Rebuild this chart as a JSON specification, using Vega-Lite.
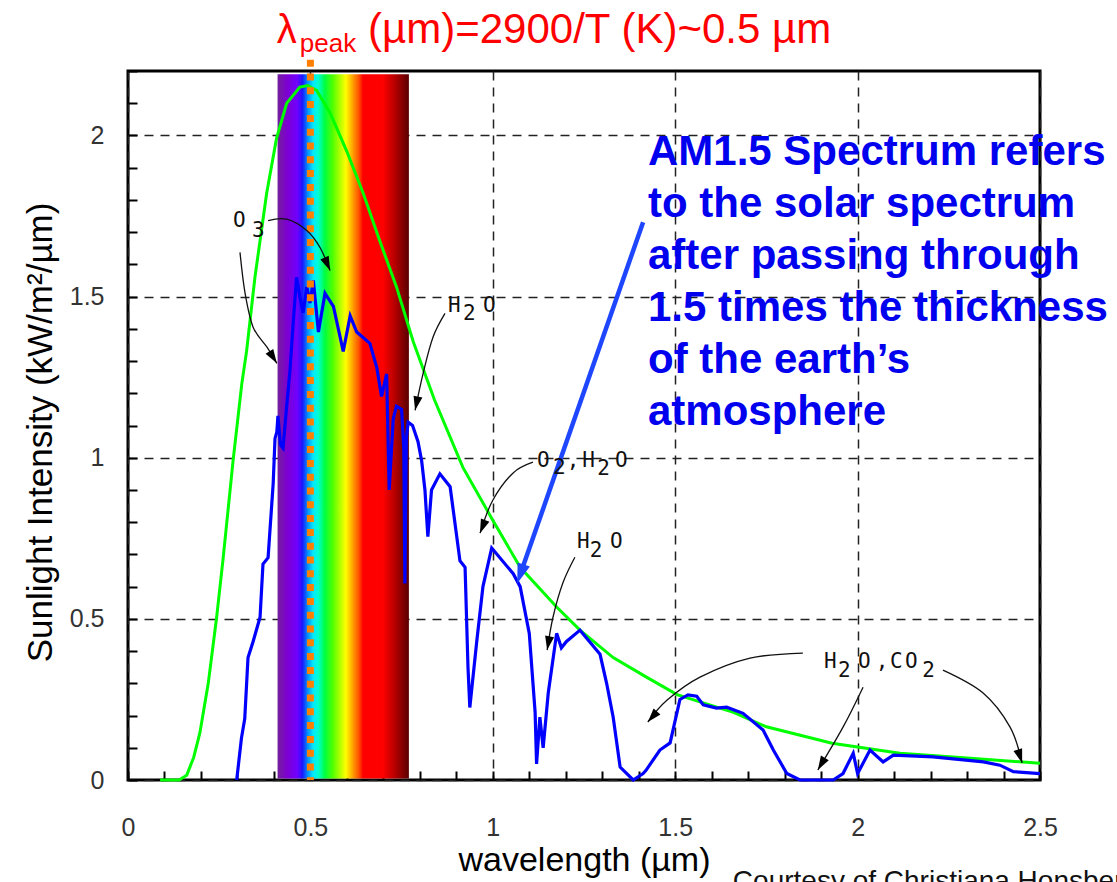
{
  "$schema": "https://vega.github.io/schema/vega-lite/v6.json",
  "width": 912,
  "height": 709,
  "autosize": "none",
  "padding": {"left": 128, "top": 71, "right": 77, "bottom": 102},
  "background": "white",
  "config": {
    "view": {"stroke": "black", "strokeWidth": 3},
    "font": "Liberation Sans"
  },
  "datasets": {
    "am15": [
      {"x":0.298,"y":0},{"x":0.311,"y":0.13},{"x":0.32,"y":0.19},{"x":0.329,"y":0.38},{"x":0.343,"y":0.43},
      {"x":0.362,"y":0.505},{"x":0.37,"y":0.67},{"x":0.384,"y":0.69},{"x":0.398,"y":0.92},{"x":0.403,"y":1.06},
      {"x":0.408,"y":1.08},{"x":0.411,"y":1.13},{"x":0.418,"y":1.04},{"x":0.425,"y":1.03},{"x":0.435,"y":1.16},
      {"x":0.444,"y":1.27},{"x":0.453,"y":1.42},{"x":0.462,"y":1.56},{"x":0.471,"y":1.5},{"x":0.48,"y":1.45},
      {"x":0.49,"y":1.53},{"x":0.499,"y":1.48},{"x":0.508,"y":1.55},{"x":0.522,"y":1.39},{"x":0.54,"y":1.51},
      {"x":0.563,"y":1.47},{"x":0.59,"y":1.33},{"x":0.609,"y":1.44},{"x":0.627,"y":1.39},{"x":0.663,"y":1.355},
      {"x":0.682,"y":1.28},{"x":0.695,"y":1.19},{"x":0.709,"y":1.26},{"x":0.716,"y":0.9},{"x":0.727,"y":1.12},
      {"x":0.736,"y":1.16},{"x":0.75,"y":1.15},{"x":0.756,"y":1.03},{"x":0.759,"y":0.61},{"x":0.763,"y":1.06},
      {"x":0.768,"y":1.11},{"x":0.78,"y":1.1},{"x":0.795,"y":1.05},{"x":0.805,"y":0.99},{"x":0.814,"y":0.9},
      {"x":0.822,"y":0.755},{"x":0.832,"y":0.9},{"x":0.855,"y":0.95},{"x":0.883,"y":0.91},{"x":0.91,"y":0.68},
      {"x":0.924,"y":0.66},{"x":0.932,"y":0.35},{"x":0.937,"y":0.225},{"x":0.956,"y":0.43},{"x":0.973,"y":0.6},
      {"x":0.997,"y":0.72},{"x":1.056,"y":0.64},{"x":1.075,"y":0.6},{"x":1.1,"y":0.455},{"x":1.116,"y":0.21},
      {"x":1.12,"y":0.05},{"x":1.129,"y":0.195},{"x":1.138,"y":0.1},{"x":1.152,"y":0.27},{"x":1.175,"y":0.455},
      {"x":1.188,"y":0.41},{"x":1.202,"y":0.43},{"x":1.239,"y":0.465},{"x":1.294,"y":0.39},{"x":1.312,"y":0.3},
      {"x":1.33,"y":0.195},{"x":1.349,"y":0.04},{"x":1.385,"y":0.0},{"x":1.412,"y":0.02},{"x":1.42,"y":0.03},
      {"x":1.458,"y":0.093},{"x":1.486,"y":0.115},{"x":1.513,"y":0.25},{"x":1.535,"y":0.264},{"x":1.559,"y":0.26},
      {"x":1.577,"y":0.233},{"x":1.613,"y":0.223},{"x":1.641,"y":0.226},{"x":1.686,"y":0.207},{"x":1.741,"y":0.155},
      {"x":1.769,"y":0.093},{"x":1.806,"y":0.02},{"x":1.842,"y":0},{"x":1.933,"y":0},{"x":1.96,"y":0.02},
      {"x":1.988,"y":0.083},{"x":2.0,"y":0.02},{"x":2.034,"y":0.093},{"x":2.07,"y":0.056},{"x":2.098,"y":0.077},
      {"x":2.207,"y":0.072},{"x":2.345,"y":0.056},{"x":2.39,"y":0.046},{"x":2.427,"y":0.026},{"x":2.5,"y":0.02}
    ],
    "bb": [
      {"x":0.088,"y":0},{"x":0.14,"y":0},{"x":0.161,"y":0.015},{"x":0.18,"y":0.07},{"x":0.197,"y":0.146},
      {"x":0.22,"y":0.3},{"x":0.243,"y":0.505},{"x":0.261,"y":0.69},{"x":0.288,"y":0.99},{"x":0.312,"y":1.23},
      {"x":0.325,"y":1.33},{"x":0.348,"y":1.56},{"x":0.38,"y":1.82},{"x":0.407,"y":1.99},{"x":0.435,"y":2.1},
      {"x":0.471,"y":2.15},{"x":0.493,"y":2.155},{"x":0.517,"y":2.14},{"x":0.554,"y":2.07},{"x":0.6,"y":1.95},
      {"x":0.645,"y":1.82},{"x":0.691,"y":1.67},{"x":0.736,"y":1.53},{"x":0.782,"y":1.36},{"x":0.84,"y":1.18},
      {"x":0.918,"y":0.97},{"x":1.0,"y":0.806},{"x":1.075,"y":0.66},{"x":1.175,"y":0.537},{"x":1.239,"y":0.465},
      {"x":1.33,"y":0.38},{"x":1.42,"y":0.32},{"x":1.505,"y":0.265},{"x":1.66,"y":0.21},{"x":1.75,"y":0.165},
      {"x":1.93,"y":0.114},{"x":2.116,"y":0.083},{"x":2.3,"y":0.068},{"x":2.5,"y":0.052}
    ],
    "arrows": [
      {"a":1,"o":1,"x":0.384,"y":1.736},{"a":1,"o":2,"x":0.435,"y":1.74},{"a":1,"o":3,"x":0.49,"y":1.705},{"a":1,"o":4,"x":0.526,"y":1.653},{"a":1,"o":5,"x":0.554,"y":1.581},
      {"a":2,"o":1,"x":0.307,"y":1.637},{"a":2,"o":2,"x":0.321,"y":1.51},{"a":2,"o":3,"x":0.343,"y":1.405},{"a":2,"o":4,"x":0.381,"y":1.343},{"a":2,"o":5,"x":0.408,"y":1.293},
      {"a":3,"o":1,"x":0.869,"y":1.448},{"a":3,"o":2,"x":0.836,"y":1.374},{"a":3,"o":3,"x":0.809,"y":1.262},{"a":3,"o":4,"x":0.787,"y":1.147},
      {"a":4,"o":1,"x":1.11,"y":0.986},{"a":4,"o":2,"x":1.055,"y":0.952},{"a":4,"o":3,"x":1.0,"y":0.868},{"a":4,"o":4,"x":0.965,"y":0.766},
      {"a":5,"o":1,"x":1.225,"y":0.691},{"a":5,"o":2,"x":1.192,"y":0.611},{"a":5,"o":3,"x":1.165,"y":0.505},{"a":5,"o":4,"x":1.149,"y":0.403},
      {"a":6,"o":1,"x":1.85,"y":0.394},{"a":6,"o":2,"x":1.705,"y":0.378},{"a":6,"o":3,"x":1.568,"y":0.319},{"a":6,"o":4,"x":1.478,"y":0.248},{"a":6,"o":5,"x":1.425,"y":0.18},
      {"a":7,"o":1,"x":2.015,"y":0.288},{"a":7,"o":2,"x":1.96,"y":0.164},{"a":7,"o":3,"x":1.891,"y":0.031},
      {"a":8,"o":1,"x":2.234,"y":0.341},{"a":8,"o":2,"x":2.344,"y":0.27},{"a":8,"o":3,"x":2.418,"y":0.164},{"a":8,"o":4,"x":2.451,"y":0.053}
    ],
    "tips": [
      {"a":1,"x":0.554,"y":1.581},{"a":2,"x":0.408,"y":1.293},{"a":3,"x":0.787,"y":1.147},{"a":4,"x":0.965,"y":0.766},
      {"a":5,"x":1.149,"y":0.403},{"a":6,"x":1.425,"y":0.18},{"a":7,"x":1.891,"y":0.031},{"a":8,"x":2.451,"y":0.053}
    ],
    "glyphs": [
      {"t":"O","x":0.288,"y":1.716},{"t":"3","x":0.34,"y":1.685},
      {"t":"H","x":0.877,"y":1.452},{"t":"2","x":0.918,"y":1.427},{"t":"O","x":0.973,"y":1.452},
      {"t":"O","x":1.121,"y":0.971},{"t":"2","x":1.165,"y":0.95},{"t":",","x":1.203,"y":0.971},{"t":"H","x":1.245,"y":0.971},{"t":"2","x":1.286,"y":0.946},{"t":"O","x":1.335,"y":0.971},
      {"t":"H","x":1.231,"y":0.72},{"t":"2","x":1.266,"y":0.692},{"t":"O","x":1.321,"y":0.72},
      {"t":"H","x":1.908,"y":0.348},{"t":"2","x":1.946,"y":0.32},{"t":"O","x":2.001,"y":0.348},{"t":",","x":2.05,"y":0.348},{"t":"C","x":2.089,"y":0.348},{"t":"O","x":2.13,"y":0.348},{"t":"2","x":2.177,"y":0.32}
    ]
  },
  "encoding": {
    "x": {
      "field": "x", "type": "quantitative",
      "scale": {"domain": [0, 2.5], "nice": false, "zero": false},
      "axis": {
        "values": [0,0.1,0.2,0.3,0.4,0.5,0.6,0.7,0.8,0.9,1,1.1,1.2,1.3,1.4,1.5,1.6,1.7,1.8,1.9,2,2.1,2.2,2.3,2.4,2.5],
        "labelExpr": "abs(datum.value*2-round(datum.value*2))<0.001 ? format(datum.value,'~g') : ''",
        "labelOverlap": false, "labelFlush": false, "labelBound": false,
        "labelFont": "Liberation Sans", "labelFontSize": 25, "labelColor": "#333333", "labelPadding": 35,
        "grid": true, "gridColor": "#222222", "gridDash": [9, 7], "gridWidth": 1.5,
        "gridOpacity": {"condition": {"test": "abs(datum.value*2-round(datum.value*2))<0.001", "value": 1}, "value": 0},
        "ticks": true, "tickSize": 9, "tickWidth": 2, "tickColor": "black", "offset": -9,
        "domain": false,
        "title": "wavelength (µm)", "titleFont": "Liberation Sans", "titleFontSize": 34, "titleFontWeight": "normal",
        "titleColor": "black", "titleY": 99, "titleBaseline": "alphabetic"
      }
    },
    "y": {
      "field": "y", "type": "quantitative",
      "scale": {"domain": [0, 2.2], "nice": false},
      "axis": {
        "values": [0,0.1,0.2,0.3,0.4,0.5,0.6,0.7,0.8,0.9,1,1.1,1.2,1.3,1.4,1.5,1.6,1.7,1.8,1.9,2,2.1,2.2],
        "labelExpr": "abs(datum.value*2-round(datum.value*2))<0.001 ? format(datum.value,'~g') : ''",
        "labelOverlap": false, "labelFlush": false, "labelBound": false,
        "labelFont": "Liberation Sans", "labelFontSize": 25, "labelColor": "#333333", "labelPadding": 24,
        "grid": true, "gridColor": "#222222", "gridDash": [9, 7], "gridWidth": 1.5,
        "gridOpacity": {"condition": {"test": "abs(datum.value*2-round(datum.value*2))<0.001", "value": 1}, "value": 0},
        "ticks": true, "tickSize": 9, "tickWidth": 2, "tickColor": "black", "offset": -9,
        "domain": false,
        "title": "Sunlight Intensity (kW/m²/µm)", "titleFont": "Liberation Sans", "titleFontSize": 35, "titleFontWeight": "normal",
        "titleColor": "black", "titleX": -97, "titleY": 361, "titleAngle": 270, "titleBaseline": "middle", "titleAlign": "center"
      }
    }
  },
  "layer": [
    {
      "data": {"values": [{"x": 0.41, "x2": 0.77, "y": 0.005, "y2": 2.19}]},
      "mark": {"type": "rect", "fill": {"gradient": "linear", "x1": 0, "y1": 0, "x2": 1, "y2": 0, "stops": [
        {"offset": 0, "color": "#73209a"},
        {"offset": 0.07, "color": "#7d00d0"},
        {"offset": 0.15, "color": "#7000ff"},
        {"offset": 0.19, "color": "#1a1aff"},
        {"offset": 0.23, "color": "#0090ff"},
        {"offset": 0.27, "color": "#00e8ff"},
        {"offset": 0.31, "color": "#00ffd0"},
        {"offset": 0.36, "color": "#00ff40"},
        {"offset": 0.42, "color": "#50ff00"},
        {"offset": 0.52, "color": "#ffff00"},
        {"offset": 0.57, "color": "#ffa500"},
        {"offset": 0.62, "color": "#ff5000"},
        {"offset": 0.65, "color": "#ff0000"},
        {"offset": 0.8, "color": "#ff0000"},
        {"offset": 0.9, "color": "#b00000"},
        {"offset": 1, "color": "#5a0000"}
      ]}},
      "encoding": {"x2": {"field": "x2"}, "y2": {"field": "y2"}}
    },
    {
      "data": {"name": "bb"},
      "mark": {"type": "line", "color": "#00ff00", "strokeWidth": 3},
      "encoding": {"order": {"field": "x", "type": "quantitative"}}
    },
    {
      "data": {"name": "am15"},
      "mark": {"type": "line", "color": "#0000ff", "strokeWidth": 3.2},
      "encoding": {"order": {"field": "x", "type": "quantitative"}}
    },
    {
      "data": {"values": [{"x": 0.5, "y": 2.235, "y2": 0}]},
      "mark": {"type": "rule", "color": "#ff8000", "strokeWidth": 7, "strokeDash": [7, 6.8], "strokeCap": "butt"},
      "encoding": {"y2": {"field": "y2"}}
    },
    {
      "data": {"name": "arrows"},
      "mark": {"type": "line", "color": "#111111", "strokeWidth": 1.3, "interpolate": "cardinal"},
      "encoding": {"detail": {"field": "a"}, "order": {"field": "o", "type": "quantitative"}}
    },
    {"data": {"name": "tips"}, "transform": [{"filter": "datum.a == 1"}],
     "mark": {"type": "point", "shape": "M0,0L-0.65,-2L0.65,-2Z", "size": 196, "filled": true, "color": "black", "opacity": 1, "angle": -23.5}},
    {"data": {"name": "tips"}, "transform": [{"filter": "datum.a == 2"}],
     "mark": {"type": "point", "shape": "M0,0L-0.65,-2L0.65,-2Z", "size": 196, "filled": true, "color": "black", "opacity": 1, "angle": -32}},
    {"data": {"name": "tips"}, "transform": [{"filter": "datum.a == 3"}],
     "mark": {"type": "point", "shape": "M0,0L-0.65,-2L0.65,-2Z", "size": 196, "filled": true, "color": "black", "opacity": 1, "angle": 12}},
    {"data": {"name": "tips"}, "transform": [{"filter": "datum.a == 4"}],
     "mark": {"type": "point", "shape": "M0,0L-0.65,-2L0.65,-2Z", "size": 196, "filled": true, "color": "black", "opacity": 1, "angle": 21.5}},
    {"data": {"name": "tips"}, "transform": [{"filter": "datum.a == 5"}],
     "mark": {"type": "point", "shape": "M0,0L-0.65,-2L0.65,-2Z", "size": 196, "filled": true, "color": "black", "opacity": 1, "angle": 10}},
    {"data": {"name": "tips"}, "transform": [{"filter": "datum.a == 6"}],
     "mark": {"type": "point", "shape": "M0,0L-0.65,-2L0.65,-2Z", "size": 196, "filled": true, "color": "black", "opacity": 1, "angle": 41}},
    {"data": {"name": "tips"}, "transform": [{"filter": "datum.a == 7"}],
     "mark": {"type": "point", "shape": "M0,0L-0.65,-2L0.65,-2Z", "size": 196, "filled": true, "color": "black", "opacity": 1, "angle": 30}},
    {"data": {"name": "tips"}, "transform": [{"filter": "datum.a == 8"}],
     "mark": {"type": "point", "shape": "M0,0L-0.65,-2L0.65,-2Z", "size": 196, "filled": true, "color": "black", "opacity": 1, "angle": -18}},
    {
      "data": {"values": [{"o": 1, "x": 1.412, "y": 1.731}, {"o": 2, "x": 1.083, "y": 0.663}]},
      "mark": {"type": "line", "color": "#1e46ff", "strokeWidth": 4.5},
      "encoding": {"order": {"field": "o", "type": "quantitative"}}
    },
    {
      "data": {"values": [{"x": 1.067, "y": 0.61}]},
      "mark": {"type": "point", "shape": "M0,0L-0.65,-2L0.65,-2Z", "size": 400, "filled": true, "color": "#1e46ff", "opacity": 1, "angle": 19}
    },
    {
      "data": {"name": "glyphs"},
      "mark": {"type": "text", "font": "DejaVu Sans Mono", "fontSize": 21, "color": "#111111", "align": "left", "baseline": "alphabetic"},
      "encoding": {"text": {"field": "t"}}
    },
    {
      "data": {"values": [{"t": "AM1.5 Spectrum refers\nto the solar spectrum\nafter passing through\n1.5 times the thickness\nof the earth’s\natmosphere", "x": 1.4254, "y": 1.908}]},
      "mark": {"type": "text", "font": "Liberation Sans", "fontSize": 42, "fontWeight": "bold", "color": "#0000ee", "align": "left", "baseline": "alphabetic", "lineBreak": "\n", "lineHeight": 52},
      "encoding": {"text": {"field": "t"}}
    },
    {
      "data": {"values": [{"t": "λ", "x": 0.408, "y": 2.287}]},
      "mark": {"type": "text", "font": "Liberation Sans", "fontSize": 40, "color": "#ff0000", "align": "left", "baseline": "alphabetic"},
      "encoding": {"text": {"field": "t"}}
    },
    {
      "data": {"values": [{"t": "peak", "x": 0.471, "y": 2.259}]},
      "mark": {"type": "text", "font": "Liberation Sans", "fontSize": 26, "color": "#ff0000", "align": "left", "baseline": "alphabetic"},
      "encoding": {"text": {"field": "t"}}
    },
    {
      "data": {"values": [{"t": "(µm)=2900/T (K)~0.5 µm", "x": 0.658, "y": 2.287}]},
      "mark": {"type": "text", "font": "Liberation Sans", "fontSize": 42, "color": "#ff0000", "align": "left", "baseline": "alphabetic"},
      "encoding": {"text": {"field": "t"}}
    },
    {
      "data": {"values": [{"t": "Courtesy of Christiana Honsberg", "x": 1.658, "y": -0.341}]},
      "mark": {"type": "text", "font": "Liberation Sans", "fontSize": 28, "color": "#111111", "align": "left", "baseline": "alphabetic"},
      "encoding": {"text": {"field": "t"}}
    }
  ]
}
